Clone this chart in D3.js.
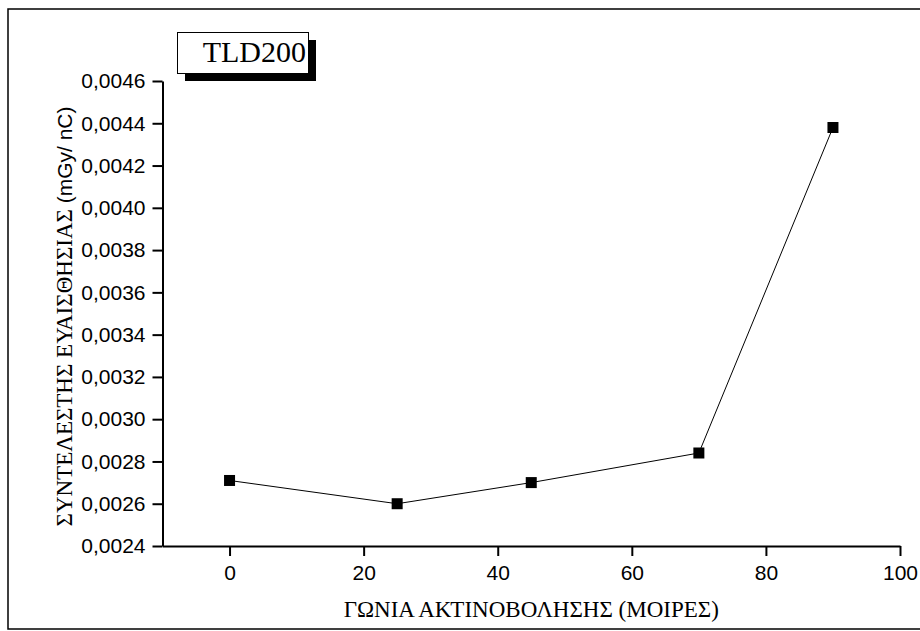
<!DOCTYPE html>
<html>
<head>
<meta charset="utf-8">
<script src="https://cdn.jsdelivr.net/npm/d3@7"></script>
<style>
  html, body { margin: 0; padding: 0; background: #fff; }
  svg { display: block; }
</style>
</head>
<body>
<svg id="chart" width="920" height="631"></svg>
<script>
// ---- data ----
const angles = [0, 25, 45, 70, 90];
const coefficients = [0.00271, 0.00260, 0.00270, 0.00284, 0.00438];
const xMajorTicks = [0, 20, 40, 60, 80, 100];
const xMinorTicks = [-10, 10, 30, 50, 70, 90];
const yMajorTicks = [0.0024, 0.0026, 0.0028, 0.0030, 0.0032, 0.0034, 0.0036, 0.0038, 0.0040, 0.0042, 0.0044, 0.0046];
const yMinorTicks = [0.0025, 0.0027, 0.0029, 0.0031, 0.0033, 0.0035, 0.0037, 0.0039, 0.0041, 0.0043, 0.0045];
const chartTitle = "TLD200";
const xTitle = "ΓΩΝΙΑ ΑΚΤΙΝΟΒΟΛΗΣΗΣ (ΜΟΙΡΕΣ)";
const yTitleGreek = "ΣΥΝΤΕΛΕΣΤΗΣ ΕΥΑΙΣΘΗΣΙΑΣ ";
const yTitleUnit = "(mGy/ nC)";

const svg = d3.select("#chart");
const sans = "'Liberation Sans', Arial, sans-serif";
const serif = "'Liberation Serif', 'Times New Roman', serif";

// outer frame
svg.append("rect").attr("x", 8).attr("y", 9).attr("width", 940).attr("height", 620)
  .attr("fill", "none").attr("stroke", "#000").attr("stroke-width", 1.5);

const x = d3.scaleLinear().domain([-10, 100]).range([162.5, 900]);
const y = d3.scaleLinear().domain([0.0024, 0.0046]).range([546, 81]);

const fmt = v => d3.format(".4f")(v).replace(".", ",");

// x axis
const gx = svg.append("g").attr("transform", `translate(0,${y(0.0024)})`);
gx.call(d3.axisBottom(x).tickValues(xMinorTicks).tickSize(5).tickSizeOuter(0).tickFormat(""));
gx.call(d3.axisBottom(x).tickValues(xMajorTicks).tickSize(10).tickSizeOuter(0).tickPadding(9).tickFormat(d3.format("d")));
// y axis
const gy = svg.append("g").attr("transform", `translate(${x(-10)},0)`);
gy.call(d3.axisLeft(y).tickValues(yMinorTicks).tickSize(5).tickSizeOuter(0).tickFormat(""));
gy.call(d3.axisLeft(y).tickValues(yMajorTicks).tickSize(10).tickSizeOuter(0).tickPadding(7).tickFormat(fmt));

svg.selectAll(".domain").attr("stroke", "#000").attr("stroke-width", 2);
svg.selectAll(".tick line").attr("stroke", "#000").attr("stroke-width", 2);
svg.selectAll(".tick text").attr("fill", "#000").style("font-family", sans).style("font-size", "21px");

// line + markers
const pts = angles.map((a, i) => ({ a, v: coefficients[i] }));
svg.append("path").datum(pts)
  .attr("fill", "none").attr("stroke", "#000").attr("stroke-width", 1)
  .attr("d", d3.line().x(d => x(d.a)).y(d => y(d.v)));
const ms = 11;
svg.selectAll("rect.marker").data(pts).enter().append("rect")
  .attr("class", "marker")
  .attr("x", d => x(d.a) - ms / 2).attr("y", d => y(d.v) - ms / 2)
  .attr("width", ms).attr("height", ms).attr("fill", "#000");

// axis titles
svg.append("text").attr("x", (x(-10) + x(100)) / 2).attr("y", 617)
  .attr("text-anchor", "middle").style("font-family", serif).style("font-size", "23px")
  .attr("fill", "#000").text(xTitle);

const yt = svg.append("text").attr("transform", `translate(72,${(y(0.0024) + y(0.0046)) / 2 + 3}) rotate(-90)`)
  .attr("text-anchor", "middle").attr("fill", "#000");
yt.append("tspan").style("font-family", serif).style("font-size", "23px").text(yTitleGreek);
yt.append("tspan").style("font-family", sans).style("font-size", "21px").text(yTitleUnit);

// title box with shadow
svg.append("rect").attr("x", 185).attr("y", 40).attr("width", 131).attr("height", 41).attr("fill", "#000");
svg.append("rect").attr("x", 177.5).attr("y", 32.5).attr("width", 131).attr("height", 41)
  .attr("fill", "#fff").attr("stroke", "#000").attr("stroke-width", 1);
svg.append("text").attr("x", 306).attr("y", 62).attr("text-anchor", "end")
  .style("font-family", serif).style("font-size", "30px").attr("fill", "#000").text(chartTitle);
</script>
</body>
</html>
